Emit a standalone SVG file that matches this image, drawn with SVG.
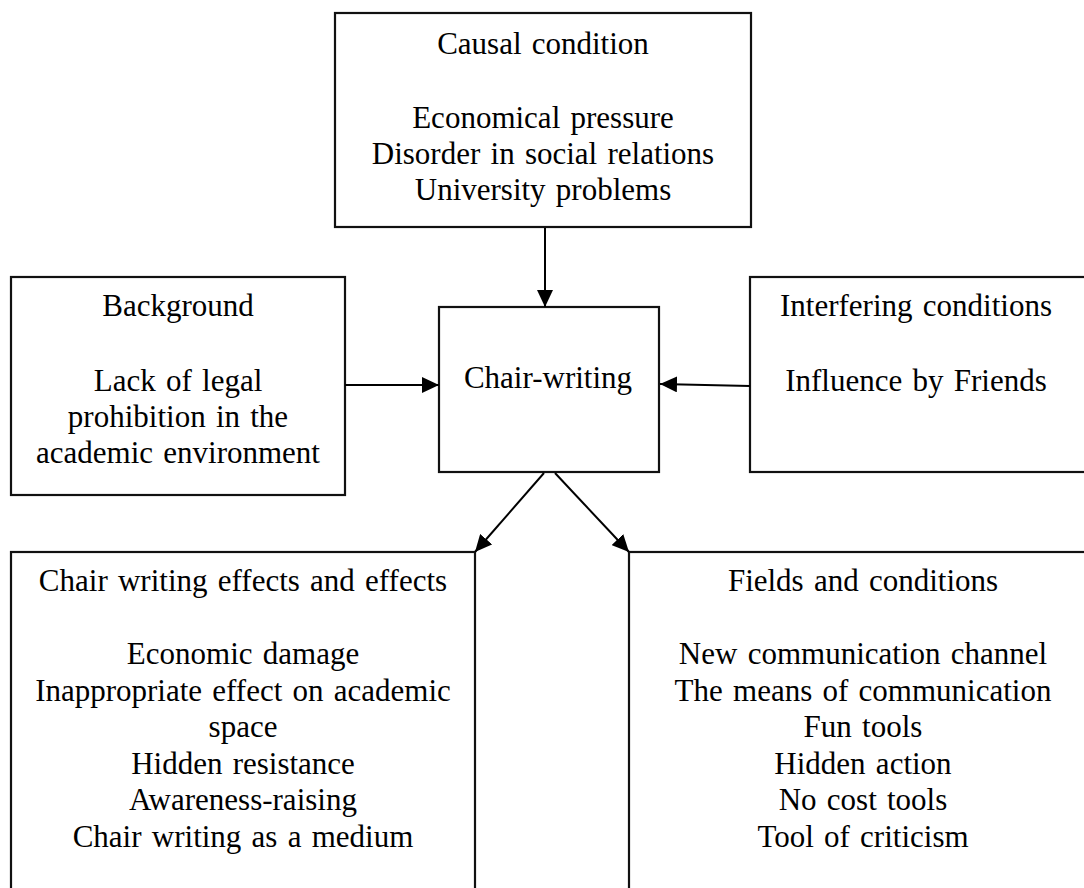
<svg xmlns="http://www.w3.org/2000/svg" width="1084" height="888" viewBox="0 0 1084 888">
<style>
.box{fill:#fff;stroke:#111;stroke-width:2.2}
.t{font-family:"Liberation Serif","Times New Roman",serif;font-size:31px;word-spacing:2.5px;fill:#000;text-anchor:middle}
.c{stroke:#000;stroke-width:2;fill:none;marker-end:url(#ah)}
</style>
<defs>
<marker id="ah" markerUnits="userSpaceOnUse" markerWidth="18" markerHeight="16" refX="17" refY="8" orient="auto">
<path d="M0,0 L17,8 L0,16 z" fill="#000"/>
</marker>
</defs>
<rect width="1084" height="888" fill="#fff"/>
<g id="causal">
<rect class="box" x="335" y="13" width="416" height="214"/>
<text class="t" x="543" y="54">Causal condition</text>
<text class="t" x="543" y="128">Economical pressure</text>
<text class="t" x="543" y="164">Disorder in social relations</text>
<text class="t" x="543" y="200">University problems</text>
</g>
<g id="background">
<rect class="box" x="11" y="277" width="334" height="218"/>
<text class="t" x="178" y="316">Background</text>
<text class="t" x="178" y="391">Lack of legal</text>
<text class="t" x="178" y="427">prohibition in the</text>
<text class="t" x="178" y="463">academic environment</text>
</g>
<g id="chair">
<rect class="box" x="439" y="307" width="220" height="165"/>
<text class="t" x="548" y="388">Chair-writing</text>
</g>
<g id="interfering">
<rect class="box" x="750" y="277" width="400" height="195"/>
<text class="t" x="916" y="316">Interfering conditions</text>
<text class="t" x="916" y="391">Influence by Friends</text>
</g>
<g id="effects">
<rect class="box" x="11" y="552" width="464" height="400"/>
<text class="t" x="243" y="591">Chair writing effects and effects</text>
<text class="t" x="243" y="664">Economic damage</text>
<text class="t" x="243" y="701">Inappropriate effect on academic</text>
<text class="t" x="243" y="737">space</text>
<text class="t" x="243" y="774">Hidden resistance</text>
<text class="t" x="243" y="810">Awareness-raising</text>
<text class="t" x="243" y="847">Chair writing as a medium</text>
</g>
<g id="fields">
<rect class="box" x="629" y="552" width="500" height="400"/>
<text class="t" x="863" y="591">Fields and conditions</text>
<text class="t" x="863" y="664">New communication channel</text>
<text class="t" x="863" y="701">The means of communication</text>
<text class="t" x="863" y="737">Fun tools</text>
<text class="t" x="863" y="774">Hidden action</text>
<text class="t" x="863" y="810">No cost tools</text>
<text class="t" x="863" y="847">Tool of criticism</text>
</g>
<g id="connectors">
<line class="c" x1="545" y1="228" x2="545" y2="307"/>
<line class="c" x1="345" y1="385" x2="439" y2="385"/>
<line class="c" x1="750" y1="386" x2="660" y2="384"/>
<line class="c" x1="544" y1="473" x2="475" y2="552"/>
<line class="c" x1="555" y1="473" x2="629" y2="552"/>
</g>
</svg>
